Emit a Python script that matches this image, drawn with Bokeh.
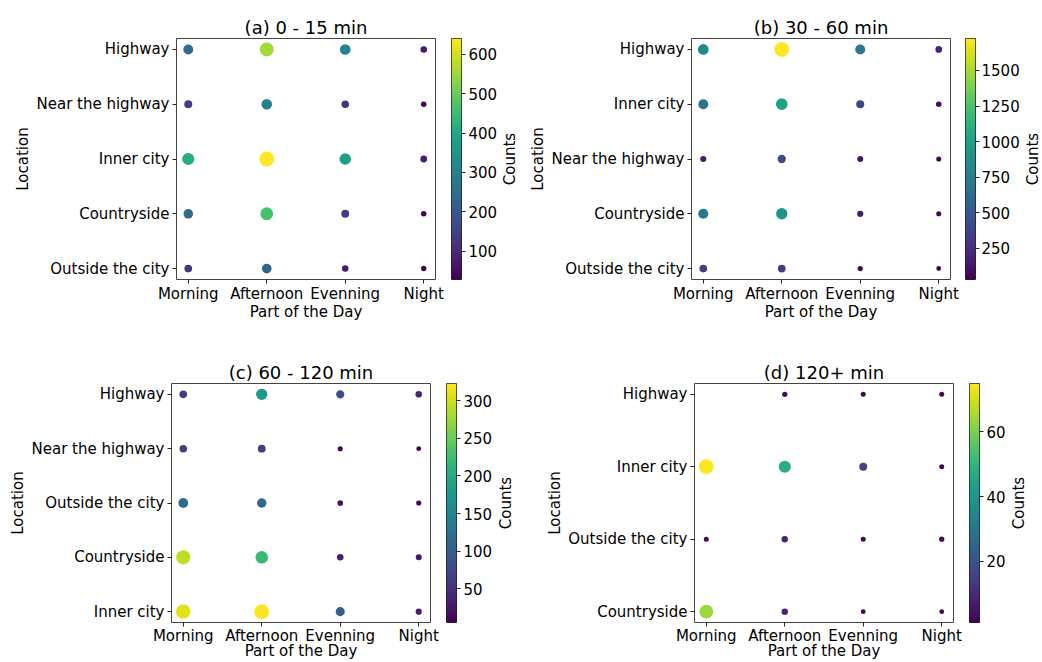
import math
import numpy as np
from bokeh.plotting import figure
from bokeh.models import (ColumnDataSource, LinearColorMapper, FixedTicker,
                          FactorRange, Range1d)
from bokeh.core.properties import value
from bokeh.palettes import Viridis256
from bokeh.layouts import row, column
from bokeh.embed import file_html
from bokeh.resources import INLINE

parts = ["Morning", "Afternoon", "Evenning", "Night"]

# Panel (a): rows listed top to bottom
title_a = "(a) 0 - 15 min"
locs_a = ["Highway", "Near the highway", "Inner city", "Countryside", "Outside the city"]
counts_a = [
    [250, 555, 300, 75],
    [140, 297, 120, 35],
    [410, 640, 370, 85],
    [230, 463, 135, 32],
    [125, 235, 70, 28],
]
ticks_a = [100, 200, 300, 400, 500, 600]

# Panel (b)
title_b = "(b) 30 - 60 min"
locs_b = ["Highway", "Inner city", "Near the highway", "Countryside", "Outside the city"]
counts_b = [
    [830, 1725, 708, 215],
    [675, 1013, 385, 100],
    [150, 420, 140, 50],
    [710, 930, 160, 50],
    [335, 350, 60, 30],
]
ticks_b = [250, 500, 750, 1000, 1250, 1500]

# Panel (c)
title_c = "(c) 60 - 120 min"
locs_c = ["Highway", "Near the highway", "Outside the city", "Countryside", "Inner city"]
counts_c = [
    [62, 174, 78, 37],
    [60, 68, 10, 5],
    [123, 113, 20, 12],
    [292, 221, 37, 27],
    [307, 323, 103, 30],
]
ticks_c = [50, 100, 150, 200, 250, 300]

# Panel (d)
title_d = "(d) 120+ min"
locs_d = ["Highway", "Inner city", "Outside the city", "Countryside"]
counts_d = [
    [None, 3, 2, 2],
    [75, 48, 16, 2],
    [2, 8, 2, 3],
    [64, 8, 1, 1],
]
ticks_d = [20, 40, 60]

FONT = "DejaVu Sans"


def style_axis(ax):
    ax.axis_line_color = None
    ax.major_tick_in = 0
    ax.major_tick_out = 4
    ax.major_tick_line_color = "#222222"
    ax.minor_tick_line_color = None
    ax.major_label_text_font = FONT
    ax.major_label_text_font_size = "15px"
    ax.major_label_text_color = "black"
    ax.axis_label_text_font = FONT
    ax.axis_label_text_font_size = "15px"
    ax.axis_label_text_font_style = "normal"
    ax.axis_label_text_color = "black"


def make_panel(title, locs, counts, ticks, width, height, bl, br, bt, bb,
               cb_width, cb_standoff, lab_width, lab_center, tick_standoff, x_label_standoff):
    xs, ys, cs = [], [], []
    for loc, vals in zip(locs, counts):
        for part, c in zip(parts, vals):
            if c is None:
                continue
            xs.append(part)
            ys.append(loc)
            cs.append(c)
    cmax, cmin = max(cs), min(cs)
    sizes = [math.sqrt(20 + 200 * c / cmax) for c in cs]
    src = ColumnDataSource(dict(x=xs, y=ys, c=cs, s=sizes))
    nx, ny = len(parts), len(locs)
    padx = 0.5 - 0.05 * (nx - 1)
    pady = 0.5 - 0.05 * (ny - 1)
    x_range = FactorRange(factors=parts, range_padding=-padx, range_padding_units="absolute")
    y_range = FactorRange(factors=list(reversed(locs)), range_padding=-pady,
                          range_padding_units="absolute")
    p = figure(x_range=x_range, y_range=y_range, width=width, height=height,
               output_backend="svg", toolbar_location=None, title=title,
               min_border_left=bl, min_border_right=br, min_border_top=bt, min_border_bottom=bb)
    mapper = LinearColorMapper(palette=Viridis256, low=cmin, high=cmax)
    p.scatter("x", "y", size="s", source=src,
              fill_color={"field": "c", "transform": mapper}, line_color=None)

    p.grid.visible = False
    p.outline_line_color = "#444444"
    p.outline_line_width = 1
    p.background_fill_color = "white"
    p.border_fill_color = "white"

    p.title.text_font = FONT
    p.title.text_font_size = "18px"
    p.title.text_font_style = "normal"
    p.title.text_color = "black"
    p.title.align = "center"
    p.title.standoff = 2

    style_axis(p.xaxis[0])
    style_axis(p.yaxis[0])
    p.xaxis.axis_label = "Part of the Day"
    p.xaxis.major_label_standoff = tick_standoff
    p.xaxis.axis_label_standoff = x_label_standoff
    p.yaxis.axis_label = "Location"
    p.yaxis.major_label_standoff = 3
    p.yaxis.axis_label_standoff = 1
    p.yaxis.major_label_orientation = "horizontal"

    # colour bar as its own narrow plot: the gradient spans the data's min..max
    cb_br = cb_width - 12
    cbf = figure(width=cb_width, height=height, x_range=Range1d(0, 1),
                 y_range=Range1d(cmin, cmax), x_axis_location=None,
                 y_axis_location="right", output_backend="svg", toolbar_location=None,
                 min_border_left=0, min_border_right=cb_br, min_border_top=bt,
                 min_border_bottom=bb)
    grad = np.linspace(cmin, cmax, 256).reshape(256, 1)
    cbf.image(image=[grad], x=0, y=cmin, dw=1, dh=cmax - cmin, color_mapper=mapper)
    cbf.grid.visible = False
    cbf.outline_line_color = "#222222"
    cbf.outline_line_width = 1
    cbf.border_fill_color = "white"
    ax = cbf.yaxis[0]
    style_axis(ax)
    ax.ticker = FixedTicker(ticks=ticks)
    ax.major_label_standoff = cb_standoff

    # the colour bar's title, rotated, in a narrow plot of its own
    lab = figure(width=lab_width, height=height, x_range=Range1d(0, lab_width),
                 y_range=Range1d(0, 1), x_axis_location=None, y_axis_location=None,
                 output_backend="svg", toolbar_location=None, min_border_left=0,
                 min_border_right=0, min_border_top=bt, min_border_bottom=bb)
    lab.grid.visible = False
    lab.outline_line_color = None
    lab.border_fill_color = "white"
    lab.text(x=[lab_center], y=[0.5], text=["Counts"], angle=math.pi / 2,
             text_align="center", text_baseline="middle", text_font=value(FONT),
             text_font_size="15px", text_color="black")
    return p, cbf, lab


pa, ca, la = make_panel(title_a, locs_a, counts_a, ticks_a, 451, 340, 176, 16, 38, 61,
                        49, 3, 20, 9.5, 1, -3)
pb, cbb, lb = make_panel(title_b, locs_b, counts_b, ticks_b, 445, 340, 171, 15, 38, 61,
                         57, 2, 20, 10, 1, -3)
pc, cc, lc = make_panel(title_c, locs_c, counts_c, ticks_c, 446, 322, 171, 16, 43, 38,
                        49, 3, 20, 10, 0, -6)
pd_, cd, ld = make_panel(title_d, locs_d, counts_d, ticks_d, 454, 322, 179, 16, 43, 38,
                         39, 3, 34, 10, 0, -6)

layout = column(row(pa, ca, la, pb, cbb, lb), row(pc, cc, lc, pd_, cd, ld))

open("out.html", "w").write(file_html(layout, INLINE))
